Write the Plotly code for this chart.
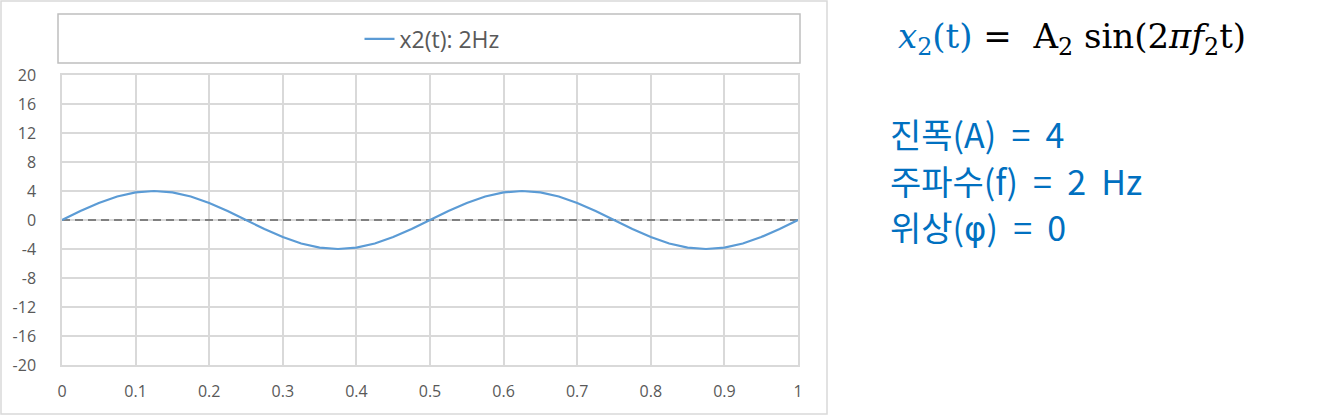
import plotly.graph_objects as go

# time samples (s) and signal values
t_values = [0, 0.025, 0.05, 0.075, 0.1, 0.125, 0.15, 0.175, 0.2, 0.225,
            0.25, 0.275, 0.3, 0.325, 0.35, 0.375, 0.4, 0.425, 0.45, 0.475,
            0.5, 0.525, 0.55, 0.575, 0.6, 0.625, 0.65, 0.675, 0.7, 0.725,
            0.75, 0.775, 0.8, 0.825, 0.85, 0.875, 0.9, 0.925, 0.95, 0.975, 1.0]
x2_values = [0, 1.24, 2.35, 3.24, 3.80, 4.00, 3.80, 3.24, 2.35, 1.24,
             0, -1.24, -2.35, -3.24, -3.80, -4.00, -3.80, -3.24, -2.35, -1.24,
             0, 1.24, 2.35, 3.24, 3.80, 4.00, 3.80, 3.24, 2.35, 1.24,
             0, -1.24, -2.35, -3.24, -3.80, -4.00, -3.80, -3.24, -2.35, -1.24, 0]
zero_t = [0, 1]
zero_y = [0, 0]
series_name = "x2(t): 2Hz"
y_ticks = [-20, -16, -12, -8, -4, 0, 4, 8, 12, 16, 20]
y_tick_labels = ["-20", "-16", "-12", "-8", "-4", "0", "4", "8", "12", "16", "20"]
x_ticks = [0, 0.1, 0.2, 0.3, 0.4, 0.5, 0.6, 0.7, 0.8, 0.9, 1]
x_tick_labels = ["0", "0.1", "0.2", "0.3", "0.4", "0.5", "0.6", "0.7", "0.8", "0.9", "1"]
info_lines = ["진폭(A) \u00a0=\u00a0 4",
              "주파수(f) \u00a0=\u00a0 2 \u00a0Hz",
              "위상(<span style='font-family:DejaVu Sans'>φ</span>) \u00a0=\u00a0 0"]

W, H = 1322, 416
L, R, T, B = 62, 798, 75, 365
pw, ph = R - L, B - T

def px_x(px):
    return (px - L) / pw

def px_y(py):
    return (B - py) / ph

fig = go.Figure()
fig.add_trace(go.Scatter(x=zero_t, y=zero_y, mode="lines", showlegend=False,
                         line=dict(color="#808080", width=2, dash="8px,5px"),
                         hoverinfo="skip"))
fig.add_trace(go.Scatter(x=t_values, y=x2_values, mode="lines", name=series_name,
                         line=dict(color="#5b9bd5", width=2.2)))

tick_font = dict(family="Open Sans, Noto Sans, sans-serif", size=16, color="#595959")
fig.update_xaxes(range=[0, 1], tickvals=x_ticks, ticktext=x_tick_labels, showgrid=True,
                 gridcolor="#d9d9d9", gridwidth=1.5, zeroline=False, showline=True,
                 linecolor="#d9d9d9", linewidth=1.5, mirror=True, ticks="",
                 tickfont=tick_font, ticklabelstandoff=11)
fig.update_yaxes(range=[-20, 20], tickvals=y_ticks, ticktext=y_tick_labels, showgrid=True,
                 gridcolor="#d9d9d9", gridwidth=1.5, zeroline=False, showline=True,
                 linecolor="#d9d9d9", linewidth=1.5, mirror=True, ticks="",
                 tickfont=tick_font, ticklabelstandoff=21)

shapes = [
    # chart area border
    dict(type="rect", xref="paper", yref="paper",
         x0=px_x(1), x1=px_x(827), y0=px_y(414), y1=px_y(1),
         line=dict(color="#d9d9d9", width=1.5), layer="below"),
    # legend box
    dict(type="rect", xref="paper", yref="paper",
         x0=px_x(58), x1=px_x(800), y0=px_y(63), y1=px_y(14),
         line=dict(color="#bfbfbf", width=1.5)),
]

annotations = [
    dict(xref="paper", yref="paper", x=px_x(896), y=px_y(39), xanchor="left",
         yanchor="middle", showarrow=False,
         text="<span style='color:#0070c0'><i>x</i><sub>2</sub>(t)</span> = \u00a0A<sub>2</sub> sin(2<i>π</i><i>f</i><sub>2</sub>t)",
         font=dict(family="DejaVu Serif, Liberation Serif, serif", size=34, color="#000000")),
]
line_y = [133, 180, 227]
for txt, yy in zip(info_lines, line_y):
    annotations.append(dict(xref="paper", yref="paper", x=px_x(888), y=px_y(yy),
                            xanchor="left", yanchor="middle", showarrow=False, text=txt,
                            font=dict(family="Noto Sans CJK KR, sans-serif", size=34,
                                      color="#0070c0")))

fig.update_layout(
    width=W, height=H,
    margin=dict(l=L, r=W - R, t=T, b=H - B, autoexpand=False),
    paper_bgcolor="white", plot_bgcolor="white",
    showlegend=True,
    legend=dict(x=px_x(432), y=px_y(39), xanchor="center", yanchor="middle",
                orientation="h", bgcolor="rgba(0,0,0,0)",
                font=dict(family="Open Sans, Noto Sans, sans-serif", size=23, color="#595959")),
    shapes=shapes, annotations=annotations,
)

fig.write_html("out.html", config={"displayModeBar": False},
               post_script="document.body.style.margin='0';")
